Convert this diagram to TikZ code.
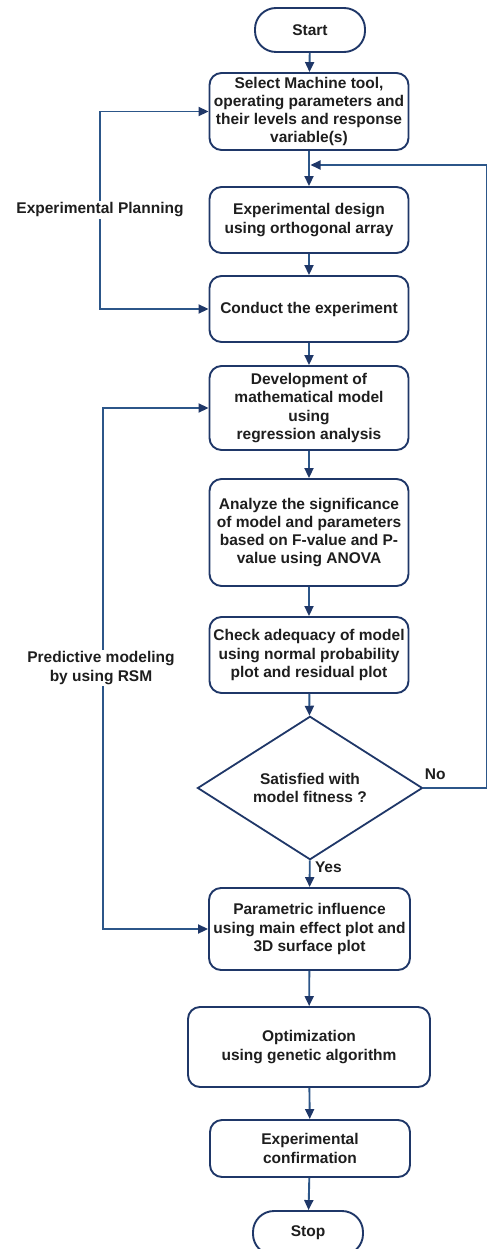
\documentclass[tikz,border=0pt]{standalone}
\usepackage{fontspec}
\setmainfont{Liberation Sans}
\usetikzlibrary{arrows.meta,shapes.geometric}
\definecolor{Navy}{HTML}{1F3768}
\definecolor{Flow}{HTML}{2C5689}
\definecolor{Ink}{HTML}{1E1E1E}
\tikzset{
  >={Triangle[length=10pt,width=9pt,color=Navy]},
  txt/.style={font=\bfseries\fontsize{15.5}{18.3}\selectfont,text=Ink},
  proc/.style={rectangle,rounded corners=12pt,draw=Navy,line width=1.9pt,fill=white,txt,align=center,inner sep=2pt,minimum width=199pt},
  term/.style={proc,rounded corners=21pt,minimum width=110pt,minimum height=44pt},
  decis/.style={diamond,draw=Navy,line width=1.8pt,fill=white,txt,align=center,inner sep=0pt,minimum width=225pt,minimum height=133pt},
  flow/.style={->,draw=Flow,line width=1.9pt},
  side/.style={txt,align=center,fill=white,inner sep=2pt}
}
\begin{document}
\begin{tikzpicture}[x=1pt,y=-1pt]
        \useasboundingbox (0,0) rectangle (488,1249);
        % main column
        \node[term] (start) at (310,30) {Start};
        \node[proc,minimum height=77pt] (select) at (309,111.5) {Select Machine tool,\\operating parameters and\\their levels and response\\variable(s)};
        \node[proc,minimum height=66pt] (design) at (309,220) {Experimental design\\using orthogonal array};
        \node[proc,minimum height=66pt] (conduct) at (309,309) {Conduct the experiment};
        \node[proc,minimum height=84pt] (develop) at (309,408) {Development of\\mathematical model\\using\\regression analysis};
        \node[proc,minimum height=107pt] (analyze) at (309,532.5) {Analyze the significance\\of model and parameters\\based on F-value and P-\\value using ANOVA};
        \node[proc,minimum height=76pt] (check) at (309,655) {Check adequacy of model\\using normal probability\\plot and residual plot};
        \node[decis] (decide) at (310,788) {Satisfied with\\model fitness ?};
        \node[proc,minimum height=82pt,minimum width=201pt] (param) at (309.5,929) {Parametric influence\\using main effect plot and\\3D surface plot};
        \node[proc,minimum height=80pt,minimum width=242pt] (optim) at (309,1047) {Optimization\\using genetic algorithm};
        \node[proc,minimum height=57pt,minimum width=200pt] (confirm) at (310,1148.5) {Experimental\\confirmation};
        \node[term] (stop) at (308,1233) {Stop};

        \draw[flow] (start)--(select);
        \draw[flow] (select)--(design);
        \draw[flow] (design)--(conduct);
        \draw[flow] (conduct)--(develop);
        \draw[flow] (develop)--(analyze);
        \draw[flow] (analyze)--(check);
        \draw[flow] (check)--(decide);
        \draw[flow] (decide)--node[txt,pos=.25,right,xshift=1pt] {Yes}(param);
        \draw[flow] (param)--(optim);
        \draw[flow] (optim)--(confirm);
        \draw[flow] (confirm)--(stop);

        % feedback when not satisfied
        \coordinate (noR) at (486.5,788);
        \coordinate (noT) at (486.5,165);
        \coordinate (join) at (310.5,165);
        \draw[flow] (decide.east)--(noR)--(noT)--(join);
        \node[txt,anchor=south west] (no) at ([xshift=-2pt,yshift=5pt]decide.east) {No};

        % side loops
        \draw[flow,<->] (select.west)-|(100,210)|-(conduct.west);
        \node[side] (plan) at (100,210) {Experimental Planning};
        \draw[flow,<->] (develop.west)-|(103,668)|-(param.west);
        \node[side] (rsm) at (101,668) {Predictive modeling\\by using RSM};
      \end{tikzpicture}
\end{document}
